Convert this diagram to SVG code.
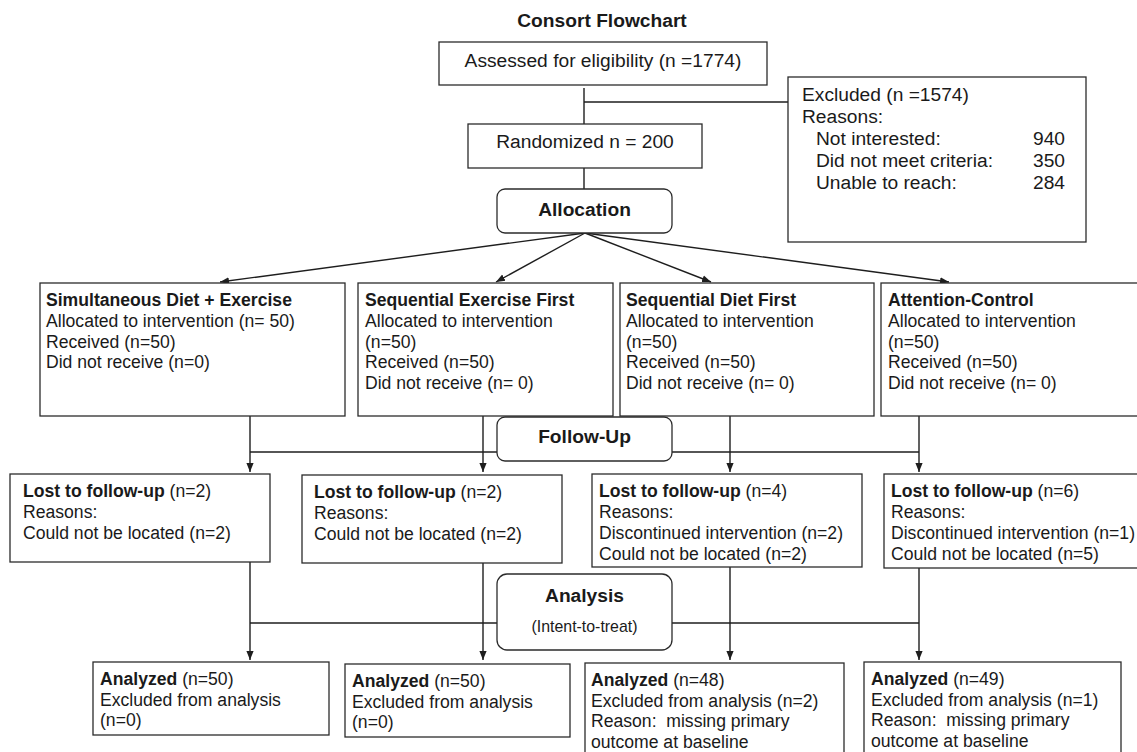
<svg xmlns="http://www.w3.org/2000/svg" width="1137" height="752" viewBox="0 0 1137 752">
<style>
text{font-family:"Liberation Sans",Arial,Helvetica,sans-serif;fill:#1a1a1a}
.big{font-size:19.2px}
.sm{font-size:17.6px}
.it{font-size:15.9px}
.b{font-weight:bold}
.box{fill:#fff;stroke:#2b2b2b;stroke-width:1.3}
.ln{fill:none;stroke:#1e1e1e;stroke-width:1.4}
.pre{white-space:pre}
</style>
<defs>
<marker id="ah" viewBox="0 0 10 10" refX="10" refY="5" markerWidth="9" markerHeight="9" markerUnits="userSpaceOnUse" orient="auto">
<path d="M0,1 L10,5 L0,9 z" fill="#1e1e1e"/>
</marker>
</defs>
<rect width="1137" height="752" fill="#fff"/>

<text id="title" x="602" y="27" text-anchor="middle" class="big b">Consort Flowchart</text>

<g id="connectors">
<line class="ln" x1="584" y1="88" x2="584" y2="124"/>
<line class="ln" x1="584" y1="102" x2="788" y2="102"/>
<line class="ln" x1="584" y1="168" x2="584" y2="189"/>
<line class="ln" x1="585" y1="233" x2="220" y2="282" marker-end="url(#ah)"/>
<line class="ln" x1="585" y1="233" x2="496" y2="282" marker-end="url(#ah)"/>
<line class="ln" x1="585" y1="233" x2="711" y2="282" marker-end="url(#ah)"/>
<line class="ln" x1="585" y1="233" x2="949" y2="282" marker-end="url(#ah)"/>
<line class="ln" x1="250" y1="416" x2="250" y2="472" marker-end="url(#ah)"/>
<line class="ln" x1="483" y1="416" x2="483" y2="472" marker-end="url(#ah)"/>
<line class="ln" x1="730" y1="416" x2="730" y2="472" marker-end="url(#ah)"/>
<line class="ln" x1="919" y1="416" x2="919" y2="472" marker-end="url(#ah)"/>
<line class="ln" x1="250" y1="452" x2="497" y2="452"/>
<line class="ln" x1="672" y1="452" x2="919" y2="452"/>
<line class="ln" x1="250" y1="555" x2="250" y2="660" marker-end="url(#ah)"/>
<line class="ln" x1="483" y1="555" x2="483" y2="660" marker-end="url(#ah)"/>
<line class="ln" x1="730" y1="567" x2="730" y2="660" marker-end="url(#ah)"/>
<line class="ln" x1="919" y1="568" x2="919" y2="660" marker-end="url(#ah)"/>
<line class="ln" x1="250" y1="623" x2="497" y2="623"/>
<line class="ln" x1="672" y1="623" x2="919" y2="623"/>
</g>

<g id="assessed">
<rect class="box" x="439" y="42" width="328" height="43"/>
<text x="603" y="67" text-anchor="middle" class="big">Assessed for eligibility (n =1774)</text>
</g>

<g id="excluded">
<rect class="box" x="788" y="77" width="298" height="165"/>
<text x="802" y="101" class="big">Excluded (n =1574)</text>
<text x="802" y="123" class="big">Reasons:</text>
<text x="816" y="145" class="big">Not interested:</text>
<text x="816" y="167" class="big">Did not meet criteria:</text>
<text x="816" y="189" class="big">Unable to reach:</text>
<text x="1065" y="145" text-anchor="end" class="big">940</text>
<text x="1065" y="167" text-anchor="end" class="big">350</text>
<text x="1065" y="189" text-anchor="end" class="big">284</text>
</g>

<g id="randomized">
<rect class="box" x="468" y="124" width="234" height="44"/>
<text x="585" y="148" text-anchor="middle" class="big">Randomized n = 200</text>
</g>

<g id="allocation">
<rect class="box" x="497" y="189" width="175" height="44" rx="8"/>
<text x="584.5" y="216" text-anchor="middle" class="big b">Allocation</text>
</g>

<g id="group1">
<rect class="box" x="40" y="283" width="305" height="133"/>
<text x="46" y="306" class="sm b">Simultaneous Diet + Exercise</text>
<text x="46" y="327" class="sm">Allocated to intervention (n= 50)</text>
<text x="46" y="348" class="sm">Received (n=50)</text>
<text x="46" y="368" class="sm">Did not receive (n=0)</text>
</g>

<g id="group2">
<rect class="box" x="358" y="283" width="255" height="133"/>
<text x="365" y="306" class="sm b">Sequential Exercise First</text>
<text x="365" y="327" class="sm">Allocated to intervention</text>
<text x="365" y="348" class="sm">(n=50)</text>
<text x="365" y="368" class="sm">Received (n=50)</text>
<text x="365" y="389" class="sm">Did not receive (n= 0)</text>
</g>

<g id="group3">
<rect class="box" x="620" y="283" width="254" height="133"/>
<text x="626" y="306" class="sm b">Sequential Diet First</text>
<text x="626" y="327" class="sm">Allocated to intervention</text>
<text x="626" y="348" class="sm">(n=50)</text>
<text x="626" y="368" class="sm">Received (n=50)</text>
<text x="626" y="389" class="sm">Did not receive (n= 0)</text>
</g>

<g id="group4">
<rect class="box" x="881" y="283" width="270" height="133"/>
<text x="888" y="306" class="sm b">Attention-Control</text>
<text x="888" y="327" class="sm">Allocated to intervention</text>
<text x="888" y="348" class="sm">(n=50)</text>
<text x="888" y="368" class="sm">Received (n=50)</text>
<text x="888" y="389" class="sm">Did not receive (n= 0)</text>
</g>

<g id="followup">
<rect class="box" x="497" y="417" width="175" height="44" rx="8"/>
<text x="584.5" y="443" text-anchor="middle" class="big b">Follow-Up</text>
</g>

<g id="lost1">
<rect class="box" x="10" y="474" width="260" height="88"/>
<text x="23" y="497" class="sm"><tspan class="b">Lost to follow-up</tspan> (n=2)</text>
<text x="23" y="518" class="sm">Reasons:</text>
<text x="23" y="539" class="sm">Could not be located (n=2)</text>
</g>

<g id="lost2">
<rect class="box" x="302" y="475" width="260" height="88"/>
<text x="314" y="498" class="sm"><tspan class="b">Lost to follow-up</tspan> (n=2)</text>
<text x="314" y="519" class="sm">Reasons:</text>
<text x="314" y="540" class="sm">Could not be located (n=2)</text>
</g>

<g id="lost3">
<rect class="box" x="592" y="474" width="270" height="93"/>
<text x="599" y="497" class="sm"><tspan class="b">Lost to follow-up</tspan> (n=4)</text>
<text x="599" y="518" class="sm">Reasons:</text>
<text x="599" y="539" class="sm">Discontinued intervention (n=2)</text>
<text x="599" y="560" class="sm">Could not be located (n=2)</text>
</g>

<g id="lost4">
<rect class="box" x="884" y="474" width="270" height="94"/>
<text x="891" y="497" class="sm"><tspan class="b">Lost to follow-up</tspan> (n=6)</text>
<text x="891" y="518" class="sm">Reasons:</text>
<text x="891" y="539" class="sm">Discontinued intervention (n=1)</text>
<text x="891" y="560" class="sm">Could not be located (n=5)</text>
</g>

<g id="analysis">
<rect class="box" x="497" y="574" width="175" height="76" rx="10"/>
<text x="584.5" y="602" text-anchor="middle" class="big b">Analysis</text>
<text x="584.5" y="632" text-anchor="middle" class="it">(Intent-to-treat)</text>
</g>

<g id="analyzed1">
<rect class="box" x="93" y="662" width="236" height="73"/>
<text x="100" y="685" class="sm"><tspan class="b">Analyzed</tspan> (n=50)</text>
<text x="100" y="706" class="sm">Excluded from analysis</text>
<text x="100" y="726" class="sm">(n=0)</text>
</g>

<g id="analyzed2">
<rect class="box" x="345" y="664" width="225" height="73"/>
<text x="352" y="687" class="sm"><tspan class="b">Analyzed</tspan> (n=50)</text>
<text x="352" y="708" class="sm">Excluded from analysis</text>
<text x="352" y="728" class="sm">(n=0)</text>
</g>

<g id="analyzed3">
<rect class="box" x="585" y="663" width="259" height="100"/>
<text x="591" y="686" class="sm"><tspan class="b">Analyzed</tspan> (n=48)</text>
<text x="591" y="707" class="sm">Excluded from analysis (n=2)</text>
<text x="591" y="727" class="sm pre">Reason:  missing primary</text>
<text x="591" y="748" class="sm">outcome at baseline</text>
</g>

<g id="analyzed4">
<rect class="box" x="864" y="662" width="257" height="100"/>
<text x="871" y="685" class="sm"><tspan class="b">Analyzed</tspan> (n=49)</text>
<text x="871" y="706" class="sm">Excluded from analysis (n=1)</text>
<text x="871" y="726" class="sm pre">Reason:  missing primary</text>
<text x="871" y="747" class="sm">outcome at baseline</text>
</g>
</svg>
